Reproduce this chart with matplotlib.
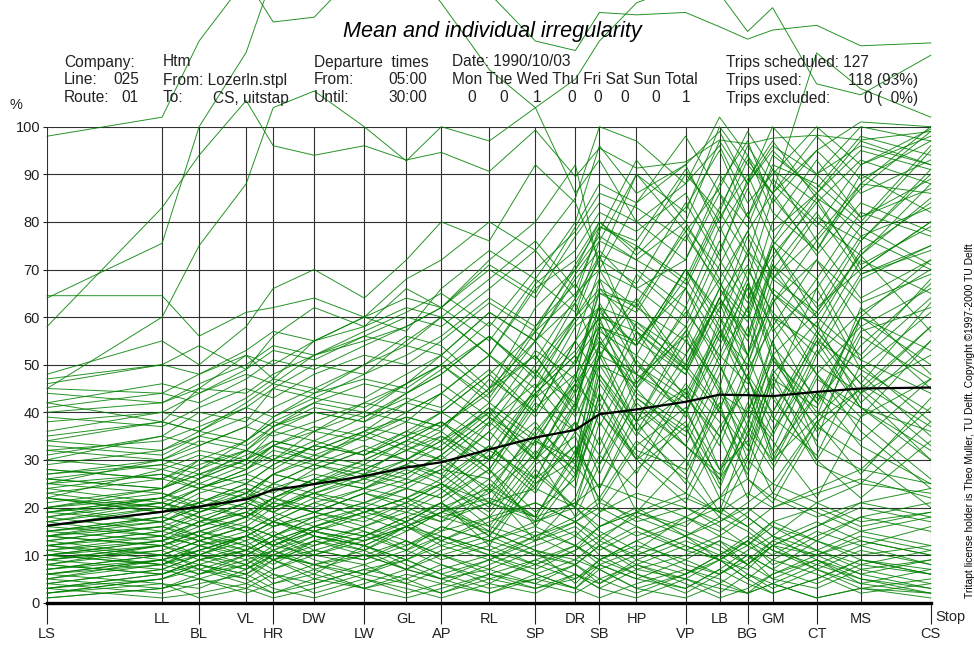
import matplotlib
matplotlib.use("Agg")
import matplotlib.pyplot as plt

plt.rcParams["font.family"] = ["Liberation Sans", "DejaVu Sans"]

W, H = 974, 646

# stops along the route, position in drawing units
stop_names = ["LS", "LL", "BL", "VL", "HR", "DW", "LW", "GL", "AP", "RL", "SP",
              "DR", "SB", "HP", "VP", "LB", "BG", "GM", "CT", "MS", "CS"]
stop_dist = [0, 115, 152, 199, 226, 267, 317, 359, 394, 442, 488,
             528, 552, 589, 638, 672, 700, 725, 769, 813, 883]

# mean irregularity (%) per stop, black line
mean_irregularity = [16.2, 19.1, 20.2, 21.7, 23.7, 24.9, 26.6, 28.4, 29.5, 32.2, 34.7,
                     36.3, 39.6, 40.6, 42.2, 43.7, 43.6, 43.4, 44.3, 45.0, 45.2]

# individual trips (%), grouped roughly by level
trips_top = [
    [98, 102, 118, 131, 122, 123, 134, 138, 135, 128, 118, 116, 124, 123.5, 124, 121, 118.4, 120.3, 121.3, 117, 117.6],
    [64, 75.5, 100, 115.6, 132, 140, 140, 135, 126, 112, 104, 110, 118, 126, 130, 128, 120, 125, 109, 106.7, 115],
    [58, 83, 94, 105.5, 96, 94, 96, 93, 94.6, 90.6, 99.3, 89.5, 95.5, 91.3, 92.6, 97.2, 96.4, 97.6, 98.2, 97.2, 99],
    [45, 60, 75, 88, 104, 107.5, 100, 92.8, 100, 97, 104, 86, 93, 80, 88, 96, 84, 90, 100, 92, 99.5],
    [64.5, 64.5, 56, 61, 62, 64, 60, 68, 72, 80, 74, 85, 100, 97, 88, 102, 94, 86, 115.5, 108, 102],
    [48, 55, 50, 58, 66, 70, 64, 72, 80, 76, 92, 84, 72, 90, 82, 100, 92, 86, 95, 101, 100],
    [42, 38, 45, 52, 47, 55, 60, 57, 66, 74, 68, 80, 96, 86, 92, 78, 88, 95, 86, 97, 92],
    [46, 50, 54, 49, 56, 62, 58, 66, 62, 72, 80, 92, 70, 84, 98, 86, 79, 92, 88, 80, 96],
]

trips_high = [
    [30, 35, 40, 38, 45, 50, 48, 55, 60, 52, 66, 72, 80, 74, 90, 82, 96, 88, 79, 92, 98],
    [25, 30, 28, 34, 38, 42, 40, 46, 52, 61, 55, 68, 74, 66, 58, 74, 87, 76, 90, 81, 89],
    [40, 42, 45, 44, 48, 52, 55, 58, 62, 70, 64, 77, 84, 80, 72, 88, 97, 84, 95, 86, 93],
    [20, 24, 30, 28, 33, 30, 36, 42, 40, 48, 57, 50, 65, 63, 78, 66, 56, 72, 85, 70, 80],
    [35, 38, 36, 42, 46, 44, 50, 56, 54, 45, 62, 70, 80, 73, 83, 95, 81, 91, 76, 87, 99],
    [18, 22, 26, 32, 30, 36, 40, 38, 44, 52, 43, 58, 62, 54, 70, 61, 77, 65, 58, 74, 84],
    [45, 44, 48, 52, 50, 55, 58, 62, 60, 68, 76, 66, 78, 93, 80, 97, 88, 100, 90, 96, 92],
    [28, 26, 30, 34, 38, 36, 42, 46, 50, 42, 55, 63, 51, 69, 60, 76, 64, 73, 84, 71, 79],
    [22, 28, 26, 30, 36, 40, 38, 44, 48, 56, 48, 60, 68, 62, 55, 71, 82, 68, 77, 88, 86],
    [38, 40, 44, 48, 46, 52, 56, 54, 60, 52, 67, 74, 82, 78, 86, 73, 89, 97, 85, 79, 95],
    [14, 18, 22, 20, 25, 29, 27, 33, 30, 38, 46, 36, 52, 48, 66, 55, 70, 61, 52, 68, 75],
    [32, 34, 37, 41, 39, 44, 47, 45, 50, 59, 51, 64, 73, 70, 62, 79, 68, 85, 74, 90, 82],
    [10, 13, 17, 21, 19, 24, 28, 26, 31, 39, 33, 48, 55, 45, 57, 68, 52, 63, 76, 64, 72],
    [42, 46, 44, 49, 53, 51, 56, 60, 58, 66, 74, 64, 79, 76, 91, 80, 93, 86, 98, 89, 97],
    [26, 24, 28, 32, 36, 34, 39, 43, 41, 49, 40, 55, 62, 59, 52, 66, 78, 69, 60, 73, 88],
    [16, 20, 24, 22, 27, 31, 29, 34, 38, 30, 44, 52, 42, 59, 49, 64, 56, 71, 63, 77, 70],
    [36, 40, 38, 43, 47, 45, 50, 54, 52, 61, 55, 69, 76, 72, 66, 81, 90, 78, 86, 95, 91],
    [24, 27, 25, 29, 33, 37, 35, 40, 44, 52, 45, 60, 66, 62, 79, 70, 61, 76, 68, 82, 77],
    [12, 15, 19, 23, 21, 26, 30, 34, 32, 40, 49, 39, 50, 46, 61, 52, 67, 58, 72, 63, 69],
    [44, 42, 46, 50, 54, 52, 57, 61, 65, 58, 70, 78, 86, 83, 76, 90, 81, 94, 87, 98, 94],
    [29, 32, 36, 34, 39, 43, 41, 46, 50, 43, 57, 65, 70, 66, 72, 86, 74, 68, 81, 76, 91],
    [20, 23, 21, 25, 29, 33, 31, 36, 40, 48, 39, 51, 58, 55, 48, 62, 71, 57, 66, 79, 71],
    [33, 31, 35, 39, 37, 42, 46, 44, 49, 56, 48, 63, 72, 67, 84, 72, 63, 80, 93, 81, 87],
    [15, 17, 21, 25, 23, 28, 32, 30, 35, 28, 42, 36, 54, 64, 50, 66, 59, 75, 62, 70, 80],
    [47, 50, 48, 53, 57, 55, 60, 64, 62, 71, 65, 79, 88, 84, 92, 99, 88, 96, 90, 100, 97],
    [22, 20, 24, 28, 32, 30, 35, 39, 37, 45, 55, 44, 57, 52, 70, 58, 74, 65, 56, 72, 65],
    [31, 35, 33, 37, 41, 45, 43, 48, 52, 44, 58, 67, 59, 75, 67, 82, 73, 89, 80, 73, 85],
    [17, 21, 19, 23, 27, 25, 30, 34, 38, 32, 45, 53, 60, 57, 49, 64, 55, 70, 82, 69, 74],
    [39, 37, 41, 45, 43, 48, 52, 50, 55, 63, 57, 71, 79, 75, 68, 83, 94, 82, 74, 88, 100],
    [27, 30, 34, 32, 37, 41, 39, 44, 48, 56, 47, 59, 65, 61, 77, 67, 60, 75, 86, 77, 83],
    [13, 16, 14, 18, 22, 26, 24, 29, 33, 41, 34, 46, 54, 48, 42, 57, 50, 66, 58, 51, 64],
    [41, 44, 42, 47, 51, 49, 54, 58, 62, 55, 68, 61, 76, 90, 78, 87, 99, 91, 84, 93, 88],
    [19, 22, 26, 30, 28, 33, 37, 35, 40, 34, 48, 42, 58, 54, 70, 60, 52, 68, 61, 76, 90],
    [34, 38, 36, 41, 45, 43, 48, 52, 56, 64, 58, 70, 77, 72, 80, 68, 78, 86, 73, 84, 78],
]

trips_mid = [
    [12, 15, 18, 16, 20, 23, 21, 25, 28, 26, 34, 30, 48, 38, 25, 44, 40, 52, 36, 45, 58],
    [8, 12, 10, 14, 17, 15, 19, 22, 20, 24, 18, 31, 42, 30, 46, 38, 27, 40, 55, 41, 36],
    [20, 22, 25, 23, 27, 30, 28, 32, 35, 30, 44, 52, 60, 41, 33, 48, 62, 43, 30, 44, 52],
    [15, 13, 16, 19, 17, 21, 24, 22, 26, 33, 25, 30, 55, 44, 37, 24, 38, 51, 39, 62, 48],
    [5, 9, 12, 10, 13, 16, 14, 18, 21, 15, 28, 20, 38, 27, 45, 35, 22, 36, 50, 44, 30],
    [25, 27, 24, 28, 31, 29, 33, 30, 34, 42, 35, 47, 68, 50, 43, 57, 44, 32, 52, 61, 70],
    [10, 8, 11, 14, 12, 16, 19, 17, 21, 12, 26, 33, 24, 38, 45, 28, 40, 55, 33, 28, 41],
    [18, 21, 19, 22, 25, 23, 27, 30, 27, 36, 44, 31, 52, 63, 49, 40, 58, 45, 66, 49, 61],
    [7, 10, 13, 16, 14, 18, 21, 24, 22, 28, 16, 27, 40, 30, 21, 35, 48, 31, 44, 38, 26],
    [28, 26, 29, 32, 30, 34, 31, 35, 38, 30, 45, 55, 47, 36, 52, 63, 49, 58, 42, 54, 67],
    [3, 6, 9, 7, 11, 14, 12, 16, 19, 23, 31, 18, 29, 42, 33, 26, 41, 34, 22, 39, 47],
    [22, 19, 23, 26, 24, 27, 25, 29, 26, 38, 30, 42, 58, 45, 62, 50, 37, 55, 68, 51, 44],
    [14, 17, 20, 18, 22, 20, 24, 27, 31, 23, 37, 29, 46, 35, 50, 41, 28, 46, 34, 60, 50],
    [9, 11, 14, 17, 21, 19, 23, 20, 24, 16, 29, 35, 21, 33, 41, 25, 37, 30, 48, 36, 24],
    [30, 28, 31, 29, 33, 36, 34, 38, 36, 47, 40, 55, 70, 57, 48, 64, 52, 71, 57, 46, 63],
    [16, 14, 17, 21, 19, 23, 26, 24, 28, 36, 26, 42, 33, 51, 39, 60, 47, 38, 56, 44, 58],
    [6, 9, 7, 10, 13, 16, 14, 18, 15, 24, 13, 22, 35, 19, 30, 42, 26, 21, 37, 31, 20],
    [26, 24, 27, 30, 33, 31, 35, 32, 36, 28, 43, 50, 62, 46, 58, 45, 67, 54, 43, 60, 72],
    [11, 14, 12, 15, 18, 22, 20, 24, 22, 30, 38, 27, 44, 32, 28, 45, 35, 52, 40, 34, 47],
    [19, 22, 20, 23, 27, 25, 28, 32, 30, 24, 36, 46, 40, 57, 43, 35, 50, 64, 48, 58, 45],
    [4, 7, 10, 8, 12, 15, 13, 17, 21, 14, 27, 20, 31, 24, 40, 28, 34, 23, 38, 45, 33],
    [24, 21, 24, 27, 25, 29, 26, 30, 34, 40, 31, 44, 53, 38, 55, 46, 30, 48, 59, 42, 55],
    [13, 16, 19, 22, 20, 24, 27, 25, 29, 21, 35, 26, 48, 36, 27, 41, 52, 39, 31, 50, 38],
    [2, 5, 8, 11, 9, 13, 16, 19, 17, 25, 18, 32, 24, 40, 30, 19, 36, 28, 44, 33, 25],
    [27, 29, 32, 30, 34, 32, 36, 39, 37, 45, 52, 41, 63, 50, 40, 56, 68, 52, 61, 73, 57],
    [17, 20, 18, 21, 24, 22, 26, 29, 27, 20, 34, 28, 50, 38, 57, 44, 33, 49, 37, 56, 47],
    [8, 6, 9, 12, 10, 14, 12, 16, 20, 14, 25, 33, 19, 28, 37, 22, 31, 44, 29, 25, 38],
    [21, 24, 27, 25, 29, 33, 31, 35, 32, 41, 30, 45, 56, 43, 36, 52, 46, 60, 48, 39, 55],
    [12, 10, 13, 16, 14, 18, 21, 19, 23, 31, 23, 36, 29, 45, 33, 27, 42, 35, 53, 41, 30],
    [32, 30, 33, 37, 35, 38, 42, 40, 44, 37, 50, 60, 73, 55, 66, 51, 62, 75, 60, 52, 68],
    [6, 8, 11, 14, 12, 16, 20, 17, 21, 28, 19, 26, 40, 31, 23, 37, 45, 30, 39, 48, 35],
    [15, 18, 16, 19, 22, 26, 24, 28, 25, 33, 24, 38, 31, 47, 56, 40, 32, 47, 41, 57, 62],
    [23, 26, 24, 27, 30, 28, 32, 36, 34, 27, 41, 48, 37, 52, 44, 58, 47, 36, 55, 49, 40],
    [10, 12, 15, 13, 16, 19, 23, 21, 25, 19, 32, 24, 44, 30, 38, 26, 35, 48, 30, 22, 34],
    [19, 17, 20, 24, 22, 25, 29, 27, 31, 39, 30, 46, 59, 48, 40, 54, 66, 51, 42, 60, 53],
    [3, 5, 8, 6, 10, 13, 11, 15, 19, 26, 17, 29, 22, 34, 26, 18, 30, 25, 38, 27, 43],
    [26, 29, 27, 31, 34, 32, 36, 33, 37, 44, 52, 40, 61, 54, 68, 57, 47, 63, 72, 58, 66],
    [9, 12, 15, 18, 16, 19, 17, 21, 25, 18, 30, 38, 27, 43, 35, 50, 39, 29, 47, 41, 32],
    [34, 32, 35, 33, 37, 40, 38, 42, 46, 39, 53, 47, 66, 58, 50, 64, 73, 60, 54, 69, 75],
    [14, 12, 15, 18, 21, 19, 23, 26, 24, 32, 26, 41, 52, 36, 44, 33, 48, 40, 57, 46, 37],
]

trips_low = [
    [5, 3, 6, 8, 4, 7, 3, 5, 8, 4, 9, 6, 3, 7, 5, 2, 6, 4, 8, 5, 3],
    [10, 8, 12, 9, 11, 7, 10, 13, 9, 12, 8, 11, 14, 9, 6, 10, 13, 8, 11, 7, 9],
    [2, 4, 1, 3, 6, 2, 5, 3, 1, 4, 2, 6, 3, 1, 5, 3, 2, 4, 1, 3, 2],
    [14, 12, 9, 11, 8, 13, 10, 7, 11, 14, 10, 8, 12, 16, 11, 9, 7, 12, 10, 14, 11],
    [8, 11, 7, 5, 9, 6, 12, 8, 5, 7, 11, 4, 9, 13, 8, 6, 10, 5, 3, 7, 4],
    [18, 15, 13, 16, 12, 10, 14, 11, 16, 13, 17, 20, 15, 11, 18, 14, 12, 17, 20, 16, 19],
    [3, 6, 8, 5, 2, 4, 7, 9, 6, 3, 5, 8, 12, 7, 10, 13, 8, 5, 9, 6, 3],
    [12, 14, 17, 15, 18, 14, 11, 16, 13, 18, 21, 17, 13, 19, 16, 22, 18, 14, 21, 25, 23],
    [6, 4, 3, 7, 10, 8, 5, 2, 4, 8, 12, 15, 10, 6, 3, 7, 11, 14, 9, 4, 2],
    [20, 17, 14, 12, 15, 11, 9, 13, 10, 6, 9, 12, 8, 5, 9, 13, 10, 7, 4, 8, 6],
    [9, 7, 10, 13, 9, 12, 15, 11, 14, 10, 7, 11, 16, 20, 14, 9, 12, 16, 11, 15, 12],
    [1, 3, 5, 2, 4, 6, 3, 1, 3, 6, 4, 2, 5, 8, 4, 1, 3, 6, 9, 5, 2],
    [15, 18, 16, 20, 17, 21, 18, 15, 19, 16, 13, 17, 21, 18, 14, 17, 20, 16, 13, 18, 21],
    [7, 9, 6, 10, 13, 9, 6, 9, 12, 15, 11, 8, 4, 9, 13, 10, 6, 3, 7, 11, 8],
    [11, 13, 15, 12, 9, 11, 14, 17, 13, 10, 14, 18, 22, 17, 20, 16, 12, 9, 14, 18, 15],
    [4, 2, 4, 6, 3, 1, 4, 7, 5, 2, 6, 9, 7, 3, 1, 4, 8, 12, 7, 3, 5],
    [22, 19, 21, 18, 22, 19, 16, 20, 17, 21, 18, 14, 19, 23, 20, 17, 21, 25, 21, 17, 19],
    [13, 10, 8, 6, 9, 5, 8, 4, 7, 10, 6, 3, 8, 11, 7, 4, 2, 6, 10, 13, 10],
    [6, 9, 11, 14, 11, 15, 12, 9, 6, 9, 14, 10, 7, 3, 6, 10, 14, 11, 7, 4, 7],
    [17, 14, 12, 14, 17, 15, 18, 21, 18, 15, 11, 9, 13, 10, 14, 18, 15, 11, 8, 12, 16],
    [3, 1, 2, 4, 2, 5, 3, 6, 4, 2, 5, 3, 1, 4, 7, 5, 2, 4, 1, 3, 1],
    [9, 12, 14, 11, 14, 17, 20, 16, 19, 22, 18, 21, 25, 22, 18, 22, 26, 22, 18, 21, 24],
    [12, 9, 11, 8, 5, 8, 11, 7, 10, 7, 4, 8, 5, 2, 6, 9, 5, 2, 5, 9, 6],
    [25, 23, 20, 22, 19, 16, 19, 22, 18, 21, 24, 20, 16, 19, 23, 19, 16, 20, 23, 26, 22],
    [5, 8, 10, 7, 10, 8, 6, 10, 14, 11, 8, 5, 9, 6, 2, 6, 10, 7, 13, 10, 12],
    [16, 19, 21, 24, 20, 23, 19, 22, 25, 21, 17, 21, 18, 14, 18, 15, 19, 23, 19, 15, 18],
    [8, 6, 9, 11, 14, 12, 16, 13, 10, 13, 16, 12, 9, 13, 17, 20, 16, 12, 16, 20, 17],
    [19, 21, 18, 15, 12, 15, 13, 16, 14, 11, 15, 12, 16, 19, 15, 12, 8, 13, 17, 13, 10],
    [2, 5, 7, 4, 7, 10, 8, 11, 8, 5, 8, 12, 9, 12, 9, 6, 9, 13, 10, 6, 9],
    [11, 8, 6, 9, 6, 4, 7, 5, 2, 5, 3, 6, 4, 8, 12, 9, 5, 9, 6, 2, 4],
    [7, 10, 13, 10, 7, 11, 9, 12, 15, 18, 14, 17, 20, 16, 12, 9, 13, 10, 15, 12, 8],
    [23, 20, 17, 19, 16, 18, 15, 12, 16, 13, 10, 14, 11, 15, 11, 14, 18, 14, 11, 8, 11],
    [4, 7, 5, 8, 11, 8, 10, 7, 5, 9, 6, 3, 7, 10, 14, 11, 8, 12, 16, 21, 18],
    [14, 16, 13, 11, 14, 10, 13, 16, 12, 9, 13, 16, 12, 8, 5, 9, 13, 17, 13, 9, 6],
    [10, 13, 10, 14, 17, 14, 12, 9, 13, 17, 21, 17, 14, 18, 22, 19, 23, 20, 24, 28, 25],
    [1, 3, 5, 3, 1, 3, 6, 4, 2, 6, 3, 5, 8, 5, 3, 7, 4, 2, 5, 9, 7],
]


def px_text(fig, x, y, s, **kw):
    """Place text at pixel position (x from left, y from top)."""
    kw.setdefault("va", "center")
    kw.setdefault("fontsize", 11.2)
    kw.setdefault("color", "#222222")
    fig.text(x / W, 1 - y / H, s, **kw)


fig = plt.figure(figsize=(W / 100, H / 100), dpi=100)
ax = fig.add_axes([47 / W, 1 - 602.7 / H, (930.7 - 47) / W, (602.7 - 126.7) / H])

ax.set_xlim(stop_dist[0], stop_dist[-1])
ax.set_ylim(0, 100)

# grid: horizontal every 10 %, vertical at every stop
for y in range(10, 101, 10):
    ax.axhline(y, color="#303030", lw=0.8, zorder=1)
for x in stop_dist:
    ax.axvline(x, color="#303030", lw=0.8, zorder=1)

for trip in trips_low + trips_mid + trips_high + trips_top:
    ax.plot(stop_dist, trip, color="#008000", lw=0.7, alpha=0.85,
            clip_on=False, zorder=2)

ax.plot(stop_dist, mean_irregularity, color="black", lw=1.6, zorder=4)

# axis frame
for side in ["top", "right", "left"]:
    ax.spines[side].set_visible(False)
ax.spines["bottom"].set_linewidth(2.4)
ax.spines["bottom"].set_zorder(5)

ax.set_yticks(range(0, 101, 10))
ax.tick_params(axis="y", length=3, width=0.8, labelsize=10.5, pad=2,
               colors="#222222")

# stop labels alternate between two rows
upper = [stop_dist[i] for i in range(1, len(stop_dist), 2)]
lower = [stop_dist[i] for i in range(0, len(stop_dist), 2)]
ax.set_xticks(lower)
ax.set_xticklabels(stop_names[0::2])
ax.set_xticks(upper, minor=True)
ax.set_xticklabels(stop_names[1::2], minor=True)
ax.tick_params(axis="x", which="major", length=15, width=0.8, pad=2.5,
               labelsize=10.5, colors="#222222")
ax.tick_params(axis="x", which="minor", length=0, pad=6.5,
               labelsize=10.5, colors="#222222")

px_text(fig, 935, 617, "Stop", fontsize=10.5)
px_text(fig, 10, 105, "%", fontsize=10.5)

# header
px_text(fig, 492, 32, "Mean and individual irregularity", ha="center",
        fontsize=15.6, style="italic", color="black")

px_text(fig, 64, 62, "Company:")
px_text(fig, 163, 62, "Htm")
px_text(fig, 64, 80, "Line:")
px_text(fig, 139, 80, "025", ha="right")
px_text(fig, 64, 98, "Route:")
px_text(fig, 139, 98, "01", ha="right")
px_text(fig, 163, 80, "From: Lozerln.stpl")
px_text(fig, 163, 98, "To:")
px_text(fig, 289, 98, "CS, uitstap", ha="right")

px_text(fig, 314, 62, "Departure  times")
px_text(fig, 314, 80, "From:")
px_text(fig, 427, 80, "05:00", ha="right")
px_text(fig, 314, 98, "Until:")
px_text(fig, 427, 98, "30:00", ha="right")

px_text(fig, 452, 62, "Date: 1990/10/03")
px_text(fig, 452, 80, "Mon Tue Wed Thu Fri Sat Sun Total")
day_x = [472, 504, 537, 572, 598, 625, 656, 686]
day_counts = [0, 0, 1, 0, 0, 0, 0, 1]
for x, n in zip(day_x, day_counts):
    px_text(fig, x, 98, str(n), ha="center")

px_text(fig, 726, 62, "Trips scheduled: 127")
px_text(fig, 726, 80, "Trips used:")
px_text(fig, 918, 80, "118 (93%)", ha="right")
px_text(fig, 726, 98, "Trips excluded:")
px_text(fig, 918, 98, "0 (  0%)", ha="right")

px_text(fig, 970, 421,
        "Tritapt license holder is Theo Muller, TU Delft. Copyright \u00a91997-2000 TU Delft",
        rotation=90, ha="center", fontsize=7.4, color="black")

fig.savefig("out.png", dpi=100)
